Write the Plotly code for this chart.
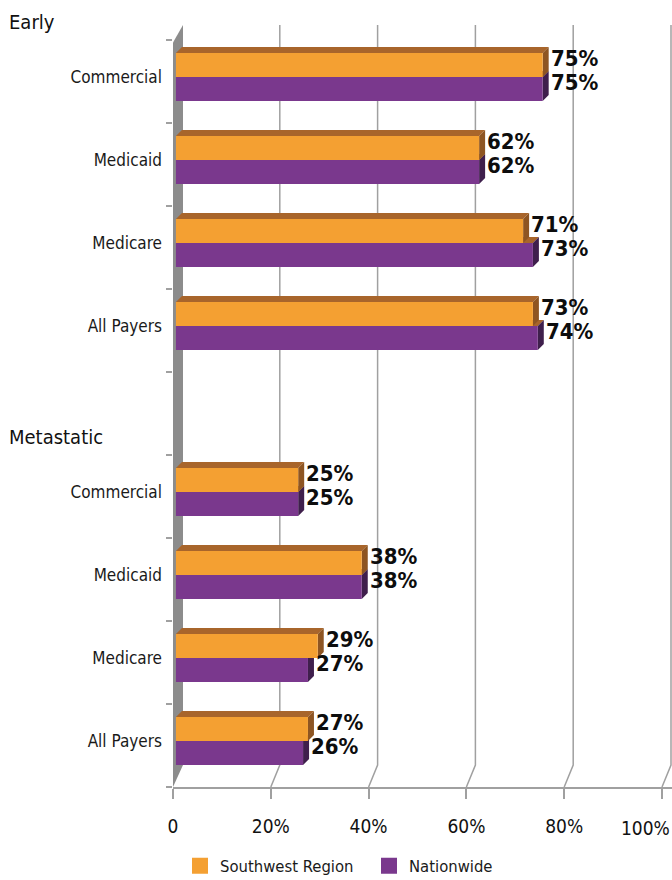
import plotly.graph_objects as go

# ---------------- data ----------------
CATEGORIES = ["Commercial", "Medicaid", "Medicare", "All Payers"]
GROUPS = ["Early", "Metastatic"]
SOUTHWEST_EARLY = [75, 62, 71, 73]
NATIONWIDE_EARLY = [75, 62, 73, 74]
SOUTHWEST_META = [25, 38, 29, 27]
NATIONWIDE_META = [25, 38, 27, 26]
SERIES_NAMES = ["Southwest Region", "Nationwide"]
X_TICKS = [0, 20, 40, 60, 80, 100]
X_TICK_TEXT = ["0", "20%", "40%", "60%", "80%", "100%"]

# ---------------- style ----------------
ORANGE = "#F4A032"
PURPLE = "#7A388D"
TOP_FACE = "#A8652B"
ORANGE_SIDE = "#8E5522"
PURPLE_SIDE = "#3F1F4C"
WALL = "#8C8C8C"
GRID = "#A0A0A0"
NARROW = "DejaVu Sans Condensed, Liberation Sans Narrow, sans-serif"
BOLD = "DejaVu Sans Condensed, Liberation Sans Narrow, sans-serif"

W, H = 672, 880
ML, MR, MT, MB = 173, 0, 25, 93
PX_X = 4.89                      # px per % unit
PLOT_W = W - ML - MR
PLOT_H = H - MT - MB
X_MAX = PLOT_W / PX_X
SLOT_TOP = -0.5 - 15 / 83.0      # extra room above first slot for the 3D wall

BAR_X0 = 0.6                      # bars start just in front of the wall
OFF_O, OFF_P, BAR_W = -0.343, -0.054, 0.289
DXB, DYB = 6 / PX_X, 6 / 83.0     # bar depth
DXG, DYG = 9 / PX_X, 22 / 83.0    # back-plane depth (grid/wall)
WALL_DX = 10 / PX_X

# ---------------- positions ----------------
y_pos, sw, nw, cat_text, headers = [], [], [], [], []
for gi, (g, s_vals, n_vals) in enumerate(zip(GROUPS, [SOUTHWEST_EARLY, SOUTHWEST_META],
                                             [NATIONWIDE_EARLY, NATIONWIDE_META])):
    start = gi * (len(CATEGORIES) + 1)
    headers.append((g, start))
    for i, c in enumerate(CATEGORIES):
        y_pos.append(start + i)
        sw.append(s_vals[i])
        nw.append(n_vals[i])
        cat_text.append(c)
n_slots = len(CATEGORIES) * 2 + 1
Y_BOTTOM = n_slots - 0.5


def y_to_paper(y):
    return (Y_BOTTOM - y) / (Y_BOTTOM - SLOT_TOP)


fig = go.Figure()
fig.add_trace(go.Bar(y=y_pos, x=sw, base=BAR_X0, orientation="h", offset=OFF_O, width=BAR_W,
                     marker=dict(color=ORANGE, line=dict(width=0)), showlegend=False,
                     name=SERIES_NAMES[0]))
fig.add_trace(go.Bar(y=y_pos, x=nw, base=BAR_X0, orientation="h", offset=OFF_P, width=BAR_W,
                     marker=dict(color=PURPLE, line=dict(width=0)), showlegend=False,
                     name=SERIES_NAMES[1]))
# legend entries
for nm, col in zip(SERIES_NAMES, [ORANGE, PURPLE]):
    fig.add_trace(go.Scatter(x=[None], y=[None], mode="markers", name=nm,
                             marker=dict(symbol="square", size=16, color=col)))

shapes = []
# back-plane gridlines with slanted foot
for t in X_TICKS[1:]:
    shapes.append(dict(type="path", xref="x", yref="y", layer="below",
                       path=f"M {t + DXG} {SLOT_TOP} L {t + DXG} {Y_BOTTOM - DYG} L {t} {Y_BOTTOM}",
                       line=dict(color=GRID, width=1.5)))
# side wall
shapes.append(dict(type="path", xref="x", yref="y", layer="below",
                   path=f"M 0 {-0.5 + 0.03} L {WALL_DX} {SLOT_TOP} L {WALL_DX} {Y_BOTTOM - DYG} L 0 {Y_BOTTOM} Z",
                   fillcolor=WALL, line=dict(width=0)))


def faces(y, v, off, side_col):
    yt = y + off
    yb = yt + BAR_W
    x1 = BAR_X0 + v
    out = []
    out.append(dict(type="path", xref="x", yref="y", layer="below",
                    path=f"M {BAR_X0} {yt} L {x1} {yt} L {x1 + DXB} {yt - DYB} L {BAR_X0 + DXB} {yt - DYB} Z",
                    fillcolor=TOP_FACE, line=dict(width=0)))
    out.append(dict(type="path", xref="x", yref="y", layer="below",
                    path=f"M {x1} {yt} L {x1 + DXB} {yt - DYB} L {x1 + DXB} {yb - DYB} L {x1} {yb} Z",
                    fillcolor=side_col, line=dict(width=0)))
    return out


for y, s, n in zip(y_pos, sw, nw):
    shapes += faces(y, n, OFF_P, PURPLE_SIDE)
for y, s, n in zip(y_pos, sw, nw):
    shapes += faces(y, s, OFF_O, ORANGE_SIDE)

annotations = []
for y, s, n in zip(y_pos, sw, nw):
    for v, off in [(s, OFF_O), (n, OFF_P)]:
        annotations.append(dict(x=BAR_X0 + v + DXB, y=y + off + BAR_W / 2, xref="x", yref="y",
                                text=f"{v}%", showarrow=False, xanchor="left", yanchor="middle",
                                xshift=0, yshift=7,
                                font=dict(family=BOLD, size=22, color="#0d0d0d", weight="bold")))
for g, start in headers:
    annotations.append(dict(x=(7 - ML) / PLOT_W, y=y_to_paper(start - 0.72), xref="paper", yref="paper",
                            text=g, showarrow=False, xanchor="left", yanchor="middle",
                            font=dict(family=NARROW, size=20, color="#111")))
# last tick label is pulled inside the page, as in the original
annotations.append(dict(x=X_TICKS[-1], y=0, xref="x", yref="paper", text=X_TICK_TEXT[-1],
                        showarrow=False, xanchor="right", yanchor="middle", xshift=10, yshift=-41,
                        font=dict(family=NARROW, size=19, color="#111")))
tick_text = X_TICK_TEXT[:-1] + [""]

fig.update_layout(
    width=W, height=H, margin=dict(l=ML, r=MR, t=MT, b=MB, pad=0, autoexpand=False),
    plot_bgcolor="white", paper_bgcolor="white", barmode="overlay",
    shapes=shapes, annotations=annotations,
    font=dict(family=NARROW, color="#222"),
    xaxis=dict(range=[0, X_MAX], tickvals=X_TICKS, ticktext=tick_text, showgrid=False,
               zeroline=False, showline=True, linecolor=GRID, linewidth=1.5, automargin=False,
               ticks="outside", ticklen=10, tickcolor=GRID, tickwidth=1.5,
               ticklabelstandoff=11, tickfont=dict(family=NARROW, size=19, color="#111")),
    yaxis=dict(range=[Y_BOTTOM, SLOT_TOP], tickvals=[y + OFF_P for y in y_pos],
               ticktext=cat_text, ticks="", showgrid=False, zeroline=False, showline=False,
               automargin=False,
               ticklabelstandoff=10, tickfont=dict(family=NARROW, size=17, color="#1a1a1a"),
               minor=dict(tickmode="linear", tick0=-0.5, dtick=1, ticks="outside", ticklen=6,
                          tickcolor=GRID, tickwidth=1.5, showgrid=False)),
    legend=dict(orientation="h", x=(180 - ML) / PLOT_W, xanchor="left",
                y=-(866 - (H - MB)) / PLOT_H, yanchor="middle",
                entrywidth=144, entrywidthmode="pixels",
                font=dict(family=NARROW, size=16.5, color="#1a1a1a"), itemclick=False),
)

fig.write_html("out.html", config={"displayModeBar": False},
               post_script="document.body.style.margin='0';document.body.style.overflow='hidden';")
